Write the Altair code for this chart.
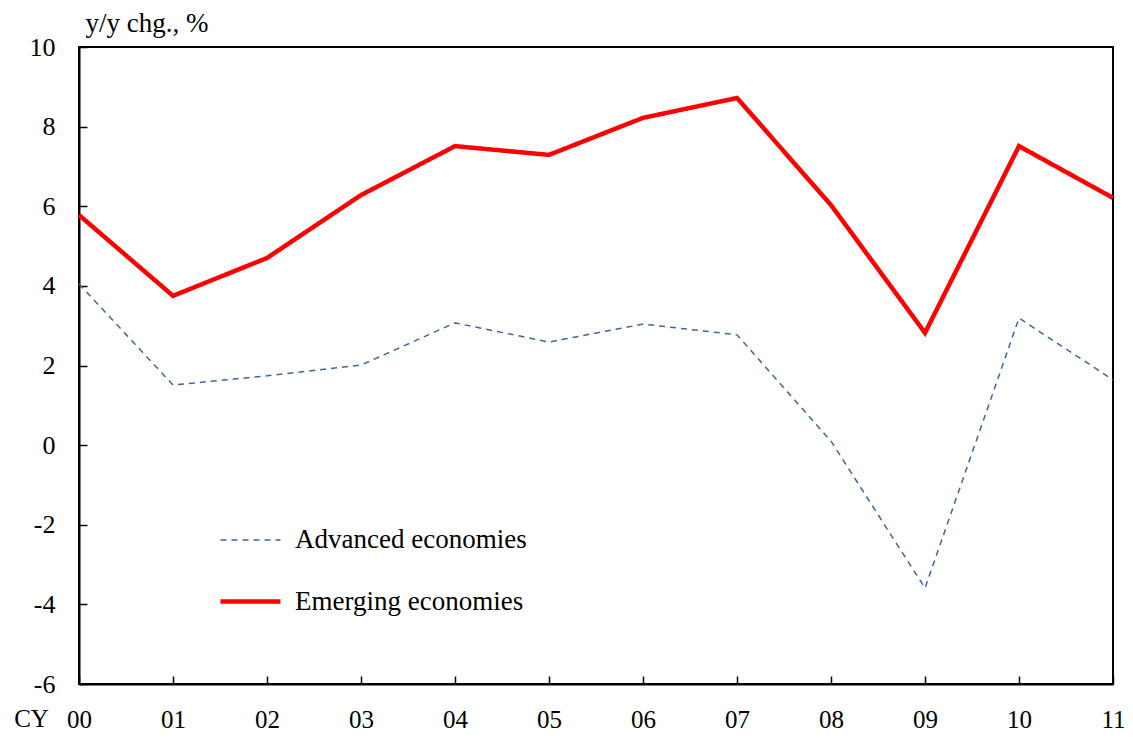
import altair as alt
import pandas as pd

years = ["00", "01", "02", "03", "04", "05", "06", "07", "08", "09", "10", "11"]
advanced = [4.05, 1.51, 1.74, 2.01, 3.07, 2.59, 3.04, 2.77, 0.10, -3.59, 3.19, 1.64]
emerging = [5.78, 3.75, 4.70, 6.28, 7.51, 7.29, 8.22, 8.72, 6.03, 2.82, 7.51, 6.21]
series = ["Advanced economies", "Emerging economies"]

rows = []
for s, vals in zip(series, [advanced, emerging]):
    for y, v in zip(years, vals):
        rows.append({"year": y, "value": v, "series": s})
df = pd.DataFrame(rows)

FONT = "Liberation Serif"


def leg():
    return alt.Legend(title=None, orient="none", legendX=139, legendY=462,
                      symbolType="stroke", symbolSize=3600, labelFontSize=27,
                      labelOffset=12, rowPadding=16, padding=0, labelLimit=0,
                      labelFont=FONT)


chart = alt.Chart(df).mark_line(strokeJoin="miter").encode(
    x=alt.X("year:N", sort=years,
            scale=alt.Scale(type="point", padding=0),
            axis=alt.Axis(title="CY", titleAngle=0, titleX=-48, titleY=34,
                          titleBaseline="middle", titleAlign="center",
                          titleFontWeight="normal", titleFontSize=25,
                          labelAngle=0, labelFontSize=25, labelPadding=43,
                          tickSize={"expr": "-8"}, labelBaseline="middle")),
    y=alt.Y("value:Q", scale=alt.Scale(domain=[-6, 10], nice=False, zero=False),
            axis=alt.Axis(values=list(range(-6, 11, 2)), title="y/y chg., %",
                          labelExpr="toString(datum.value)",
                          titleAngle=0, titleX=6, titleY=-24, titleAlign="left",
                          titleBaseline="middle", titleFontWeight="normal", titleFontSize=27,
                          labelFontSize=26, labelPadding=32, tickSize={"expr": "-8"},
                          grid=False)),
    color=alt.Color("series:N", scale=alt.Scale(domain=series, range=["#3F66A0", "#FF0000"]),
                    legend=leg()),
    strokeDash=alt.StrokeDash("series:N", scale=alt.Scale(domain=series, range=[[6, 5], [1, 0]]),
                              legend=leg()),
    strokeWidth=alt.StrokeWidth("series:N", scale=alt.Scale(domain=series, range=[1.5, 4.5]),
                                legend=leg()),
).properties(
    width=1034, height=637,
    autosize=alt.AutoSizeParams(type="none"),
    padding={"left": 71, "top": 39, "right": 12, "bottom": 47},
).configure_view(
    stroke="black", strokeWidth=2
).configure_axis(
    labelFont=FONT, titleFont=FONT, labelColor="black", titleColor="black",
    domainColor="black", domainWidth=2, tickColor="black", tickWidth=1.5
).configure_legend(
    labelFont=FONT, labelColor="black"
)

chart.save("out.html", embed_options={"renderer": "svg", "actions": False})
